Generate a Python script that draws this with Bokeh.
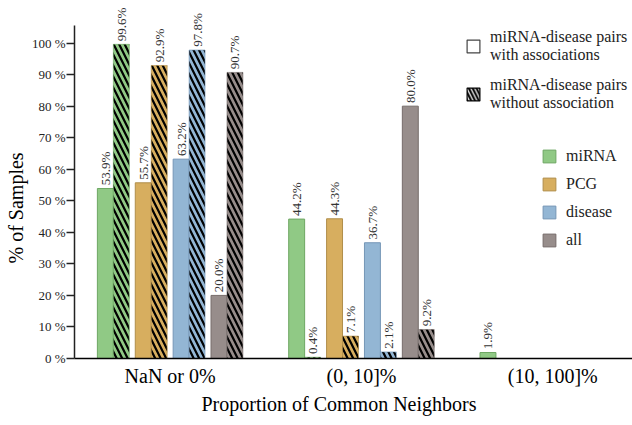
import math
import numpy as np
from bokeh.plotting import figure
from bokeh.models import ColumnDataSource, Range1d, FixedTicker, Legend, LegendItem, Title
from bokeh.core.properties import value
from bokeh.embed import file_html
from bokeh.resources import INLINE

# ---- data ----
groups = ["NaN or 0%", "(0, 10]%", "(10, 100]%"]
categories = ["miRNA", "PCG", "disease", "all"]
miRNA_with = [53.9, 44.2, 1.9]
miRNA_without = [99.6, 0.4, 0.0]
PCG_with = [55.7, 44.3, 0.0]
PCG_without = [92.9, 7.1, 0.0]
disease_with = [63.2, 36.7, 0.0]
disease_without = [97.8, 2.1, 0.0]
all_with = [20.0, 80.0, 0.0]
all_without = [90.7, 9.2, 0.0]
y_ticks = [0, 10, 20, 30, 40, 50, 60, 70, 80, 90, 100]

with_vals = [miRNA_with, PCG_with, disease_with, all_with]
without_vals = [miRNA_without, PCG_without, disease_without, all_without]

fills = ["#90c985", "#d7ae5f", "#93b6d4", "#978d8b"]
lines = ["#6ea763", "#b08e4b", "#7596b6", "#766c6a"]

FONT = "Liberation Serif"

p = figure(width=632, height=425, output_backend="svg", toolbar_location=None,
           x_range=Range1d(-0.5, 2.4167), y_range=Range1d(0, 113.5),
           min_border_left=72, min_border_right=0, min_border_top=0,
           min_border_bottom=67)
p.outline_line_color = None
p.xgrid.visible = False
p.ygrid.visible = False

pair_off = [-0.297, -0.099, 0.099, 0.297]
half = 0.0417
bw = 0.0833
HS = 11
HW = 2.2

gx = np.arange(len(groups))
plain_renderers = []
for i, cat in enumerate(categories):
    xs_w = gx + pair_off[i] - half
    xs_o = gx + pair_off[i] + half
    src_w = ColumnDataSource(dict(x=xs_w, top=with_vals[i]))
    src_o = ColumnDataSource(dict(x=xs_o, top=without_vals[i]))
    r = p.vbar(x="x", top="top", width=bw, source=src_w,
               fill_color=fills[i], line_color=lines[i], line_width=1)
    plain_renderers.append(r)
    p.vbar(x="x", top="top", width=bw, source=src_o,
           fill_color=fills[i], line_color=lines[i], line_alpha=0.6, line_width=1,
           hatch_pattern="\\", hatch_color="black", hatch_scale=HS, hatch_weight=HW)
    lx, ly, lt = [], [], []
    for xv, v in list(zip(xs_w, with_vals[i])) + list(zip(xs_o, without_vals[i])):
        if v > 0:
            lx.append(xv)
            ly.append(v + 1.0)
            lt.append(f"{v:.1f}%")
    p.text(x=lx, y=ly, text=lt, angle=math.pi / 2, text_align="left",
           text_baseline="middle", text_font=value(FONT), text_font_size="13px",
           text_color="#333333")

# key-only renderers for the pair-type legend (no visible bar)
nan = float("nan")
d1 = p.vbar(x=[0], top=[nan], width=bw, fill_color="white", line_color="#444444", line_width=1.2)
d2 = p.vbar(x=[0], top=[nan], width=bw, fill_color="white", line_color="black", line_width=1.2,
            hatch_pattern="\\", hatch_color="black", hatch_scale=HS * 0.7, hatch_weight=HW)

# axes
xa = p.xaxis[0]
xa.ticker = FixedTicker(ticks=list(range(len(groups))))
xa.major_label_overrides = {i: g for i, g in enumerate(groups)}
xa.major_tick_out = 0
xa.major_tick_in = 0
xa.minor_tick_out = 0
xa.minor_tick_in = 0
xa.axis_line_color = "black"
xa.axis_line_width = 1.5
xa.major_label_text_font = FONT
xa.major_label_text_font_size = "20px"
xa.major_label_text_color = "black"
xa.major_label_standoff = 6

p.add_layout(Title(text="Proportion of Common Neighbors", align="left", offset=127,
                   text_font=FONT, text_font_size="20px", text_font_style="normal",
                   text_color="black", standoff=2), "below")

ya = p.yaxis[0]
ya.ticker = FixedTicker(ticks=y_ticks)
ya.major_label_overrides = {t: f"{t} %" for t in y_ticks}
ya.bounds = (0, 105.6)
ya.major_tick_out = 8
ya.major_tick_in = 0
ya.minor_tick_out = 0
ya.minor_tick_in = 0
ya.axis_line_color = "#222222"
ya.axis_line_width = 1.5
ya.major_tick_line_color = "#222222"
ya.major_tick_line_width = 1.5
ya.major_label_text_font = FONT
ya.major_label_text_font_size = "13px"
ya.major_label_text_color = "#222222"
ya.major_label_standoff = 1

p.add_layout(Title(text="% of Samples", align="left", offset=95,
                   text_font=FONT, text_font_size="20px", text_font_style="normal",
                   text_color="black", standoff=4), "left")

# legends
leg1 = Legend(items=[LegendItem(label="miRNA-disease pairs\nwith associations", renderers=[d1]),
                     LegendItem(label="miRNA-disease pairs\nwithout association", renderers=[d2])],
              location=(391, 246), orientation="vertical")
leg2 = Legend(items=[LegendItem(label=c, renderers=[plain_renderers[i]]) for i, c in enumerate(categories)],
              location=(467, 109), orientation="vertical")
for lg in (leg1, leg2):
    lg.background_fill_alpha = 0
    lg.border_line_alpha = 0
    lg.padding = 0
    lg.margin = 0
    lg.glyph_width = 16
    lg.glyph_height = 16
    lg.label_text_font = FONT
    lg.label_text_font_size = "16px"
    lg.label_text_color = "#222222"
    lg.label_standoff = 9
leg1.spacing = 12
leg2.label_height = 18
leg2.spacing = 10
p.add_layout(leg1, "center")
p.add_layout(leg2, "center")

open("out.html", "w").write(file_html(p, INLINE))
